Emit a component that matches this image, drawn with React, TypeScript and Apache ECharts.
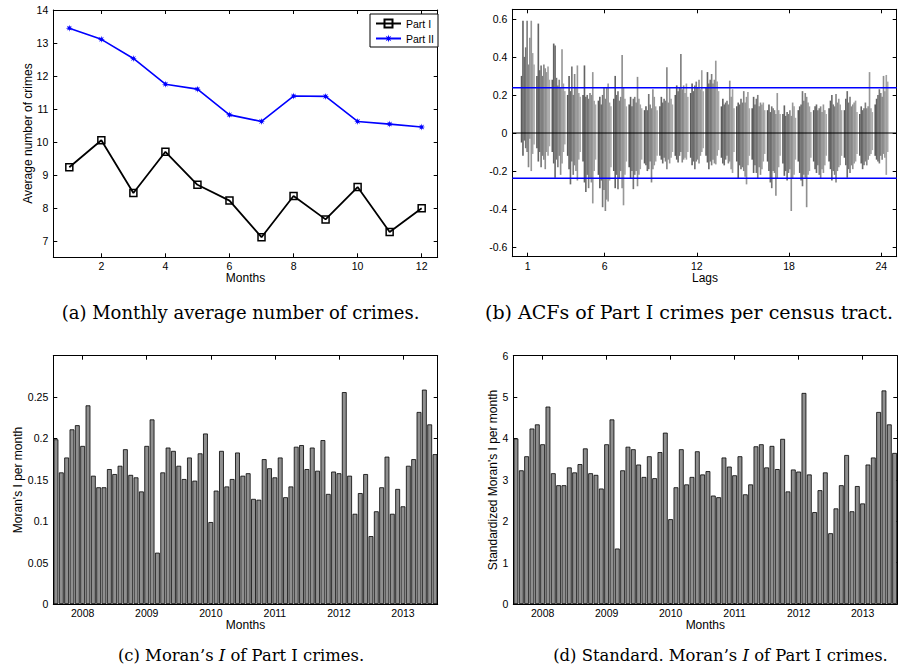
import React, { useEffect, useRef } from "react";
import * as echarts from "echarts";

const SANS = "'Liberation Sans', Arial, Helvetica, sans-serif";
const SERIF = "'DejaVu Serif', serif";

// ---------- (a) monthly averages ----------
const monthNums = [1, 2, 3, 4, 5, 6, 7, 8, 9, 10, 11, 12];
const partI = [9.23, 10.05, 8.45, 9.7, 8.7, 8.22, 7.11, 8.36, 7.65, 8.63, 7.27, 7.99];
const partII = [13.45, 13.11, 12.53, 11.75, 11.6, 10.82, 10.62, 11.39, 11.38, 10.62, 10.54, 10.45];
const monthTicksA = [2, 4, 6, 8, 10, 12];
const crimeTicks = [7, 8, 9, 10, 11, 12, 13, 14];

// ---------- (b) ACFs per lag (10 sub-columns per lag: upper and lower extents) ----------
const lagNums = [1, 2, 3, 4, 5, 6, 7, 8, 9, 10, 11, 12, 13, 14, 15, 16, 17, 18, 19, 20, 21, 22, 23, 24];
const lagTicks = [1, 6, 12, 18, 24];
const acfTicks = [-0.6, -0.4, -0.2, 0, 0.2, 0.4, 0.6];
const acfBound = 0.2377;
const acfHigh = [
  [0.30, 0.59, 0.40, 0.45, 0.59, 0.36, 0.50, 0.59, 0.42, 0.36],
  [0.30, 0.575, 0.33, 0.355, 0.30, 0.36, 0.34, 0.32, 0.35, 0.28],
  [0.28, 0.47, 0.46, 0.29, 0.25, 0.28, 0.24, 0.44, 0.26, 0.22],
  [0.20, 0.30, 0.22, 0.35, 0.20, 0.31, 0.24, 0.355, 0.21, 0.19],
  [0.20, 0.355, 0.19, 0.20, 0.18, 0.21, 0.20, 0.32, 0.17, 0.15],
  [0.17, 0.19, 0.15, 0.20, 0.24, 0.18, 0.24, 0.26, 0.16, 0.14],
  [0.18, 0.30, 0.20, 0.22, 0.17, 0.19, 0.41, 0.24, 0.18, 0.14],
  [0.15, 0.19, 0.14, 0.18, 0.19, 0.16, 0.295, 0.18, 0.15, 0.13],
  [0.12, 0.14, 0.12, 0.205, 0.15, 0.13, 0.23, 0.19, 0.14, 0.12],
  [0.14, 0.19, 0.16, 0.18, 0.17, 0.345, 0.16, 0.24, 0.18, 0.15],
  [0.20, 0.25, 0.22, 0.24, 0.415, 0.23, 0.25, 0.21, 0.26, 0.19],
  [0.21, 0.26, 0.22, 0.25, 0.27, 0.24, 0.28, 0.23, 0.33, 0.22],
  [0.24, 0.32, 0.26, 0.28, 0.31, 0.26, 0.28, 0.38, 0.27, 0.22],
  [0.14, 0.18, 0.15, 0.16, 0.17, 0.15, 0.275, 0.19, 0.23, 0.13],
  [0.14, 0.16, 0.15, 0.18, 0.16, 0.22, 0.16, 0.19, 0.215, 0.13],
  [0.13, 0.19, 0.15, 0.18, 0.20, 0.14, 0.16, 0.15, 0.16, 0.12],
  [0.12, 0.15, 0.11, 0.14, 0.13, 0.12, 0.10, 0.21, 0.12, 0.10],
  [0.10, 0.145, 0.09, 0.11, 0.10, 0.12, 0.09, 0.16, 0.14, 0.08],
  [0.12, 0.14, 0.15, 0.22, 0.17, 0.21, 0.19, 0.16, 0.14, 0.11],
  [0.12, 0.14, 0.15, 0.12, 0.13, 0.14, 0.11, 0.15, 0.12, 0.10],
  [0.13, 0.17, 0.20, 0.15, 0.14, 0.205, 0.16, 0.18, 0.15, 0.12],
  [0.12, 0.18, 0.22, 0.16, 0.19, 0.14, 0.15, 0.16, 0.17, 0.11],
  [0.10, 0.14, 0.12, 0.13, 0.16, 0.13, 0.14, 0.32, 0.13, 0.11],
  [0.15, 0.18, 0.20, 0.23, 0.21, 0.19, 0.30, 0.22, 0.305, 0.27],
];
const acfLow = [
  [-0.05, -0.12, -0.04, -0.08, -0.10, -0.18, -0.03, -0.20, -0.11, -0.06],
  [-0.08, -0.15, -0.10, -0.18, -0.12, -0.14, -0.19, -0.10, -0.12, -0.07],
  [-0.10, -0.16, -0.235, -0.14, -0.18, -0.12, -0.22, -0.16, -0.10, -0.06],
  [-0.12, -0.19, -0.27, -0.15, -0.22, -0.17, -0.20, -0.25, -0.14, -0.10],
  [-0.15, -0.26, -0.31, -0.22, -0.29, -0.24, -0.26, -0.37, -0.20, -0.14],
  [-0.22, -0.29, -0.25, -0.39, -0.30, -0.41, -0.35, -0.36, -0.25, -0.18],
  [-0.20, -0.29, -0.22, -0.295, -0.24, -0.20, -0.29, -0.38, -0.22, -0.15],
  [-0.18, -0.24, -0.20, -0.295, -0.22, -0.20, -0.28, -0.22, -0.19, -0.14],
  [-0.16, -0.17, -0.20, -0.19, -0.15, -0.26, -0.19, -0.17, -0.15, -0.12],
  [-0.12, -0.14, -0.16, -0.13, -0.15, -0.19, -0.14, -0.16, -0.13, -0.10],
  [-0.12, -0.14, -0.155, -0.12, -0.10, -0.155, -0.14, -0.13, -0.14, -0.10],
  [-0.13, -0.17, -0.15, -0.19, -0.15, -0.14, -0.16, -0.12, -0.10, -0.08],
  [-0.12, -0.155, -0.19, -0.15, -0.17, -0.14, -0.16, -0.165, -0.12, -0.09],
  [-0.13, -0.16, -0.17, -0.14, -0.12, -0.16, -0.15, -0.19, -0.21, -0.10],
  [-0.15, -0.24, -0.17, -0.19, -0.18, -0.20, -0.23, -0.27, -0.17, -0.12],
  [-0.14, -0.21, -0.17, -0.21, -0.24, -0.18, -0.22, -0.19, -0.15, -0.11],
  [-0.15, -0.20, -0.26, -0.29, -0.20, -0.21, -0.33, -0.24, -0.18, -0.12],
  [-0.16, -0.225, -0.20, -0.25, -0.21, -0.19, -0.41, -0.24, -0.22, -0.14],
  [-0.15, -0.21, -0.25, -0.28, -0.22, -0.235, -0.39, -0.22, -0.20, -0.13],
  [-0.15, -0.19, -0.21, -0.17, -0.22, -0.24, -0.19, -0.21, -0.17, -0.12],
  [-0.15, -0.19, -0.25, -0.20, -0.22, -0.26, -0.20, -0.18, -0.17, -0.12],
  [-0.13, -0.17, -0.235, -0.19, -0.21, -0.17, -0.19, -0.16, -0.15, -0.11],
  [-0.12, -0.16, -0.19, -0.17, -0.15, -0.17, -0.14, -0.12, -0.11, -0.09],
  [-0.12, -0.14, -0.15, -0.16, -0.12, -0.14, -0.11, -0.13, -0.22, -0.10],
];

// ---------- (c), (d) Moran's I per month ----------
const years = ["2008", "2009", "2010", "2011", "2012", "2013"];
const monthCodes = ["01", "02", "03", "04", "05", "06", "07", "08", "09", "10", "11", "12"];
const moranI = [
  0.199, 0.159, 0.177, 0.211, 0.216, 0.191, 0.240, 0.155, 0.141, 0.141, 0.163, 0.157,
  0.167, 0.187, 0.156, 0.153, 0.136, 0.191, 0.223, 0.062, 0.159, 0.189, 0.185, 0.167,
  0.151, 0.177, 0.149, 0.182, 0.206, 0.099, 0.137, 0.185, 0.142, 0.151, 0.183, 0.155,
  0.158, 0.127, 0.126, 0.175, 0.164, 0.153, 0.177, 0.129, 0.142, 0.190, 0.192, 0.163,
  0.189, 0.161, 0.198, 0.133, 0.160, 0.158, 0.256, 0.155, 0.109, 0.134, 0.157, 0.082,
  0.112, 0.141, 0.178, 0.109, 0.139, 0.118, 0.167, 0.175, 0.232, 0.259, 0.217, 0.181,
];
const moranZ = [
  4.00, 3.23, 3.57, 4.24, 4.34, 3.86, 4.77, 3.16, 2.87, 2.87, 3.30, 3.18,
  3.38, 3.76, 3.16, 3.12, 2.79, 3.86, 4.46, 1.34, 3.23, 3.80, 3.74, 3.37,
  3.07, 3.57, 3.04, 3.67, 4.14, 2.05, 2.82, 3.74, 2.89, 3.07, 3.69, 3.13,
  3.21, 2.62, 2.58, 3.54, 3.32, 3.11, 3.57, 2.65, 2.89, 3.81, 3.86, 3.30,
  3.82, 3.26, 3.99, 2.72, 3.25, 3.20, 5.10, 3.13, 2.22, 2.75, 3.18, 1.71,
  2.31, 2.87, 3.60, 2.24, 2.85, 2.43, 3.37, 3.54, 4.64, 5.16, 4.34, 3.65,
];
const moranITicks = [0, 0.05, 0.1, 0.15, 0.2, 0.25];
const moranZTicks = [0, 1, 2, 3, 4, 5, 6];

const monthCats = years.flatMap((y) => monthCodes.map((m) => y + "-" + m));

const axisLineStyle = { show: true, onZero: false, lineStyle: { color: "#000", width: 1 } };
const labelStyle = { color: "#000", fontSize: 10.5, fontFamily: SANS };

function tick(custom?: number[]) {
  const t: any = { show: true, inside: true, length: 4, lineStyle: { color: "#000", width: 1 } };
  if (custom) t.customValues = custom;
  return t;
}

function valuePair(dim: "x" | "y", gridIndex: number, min: number, max: number, ticks: number[], fmt: (v: number) => string) {
  const base: any = {
    type: "value", gridIndex, min, max,
    splitLine: { show: false }, axisLine: axisLineStyle, axisTick: tick(ticks),
  };
  return [
    { ...base, position: dim === "x" ? "bottom" : "left",
      axisLabel: { ...labelStyle, show: true, customValues: ticks, margin: dim === "x" ? 3.5 : 5, formatter: fmt } },
    { ...base, position: dim === "x" ? "top" : "right", axisLabel: { show: false } },
  ];
}

const yearTick = (i: number) => i % 12 === 5;
function catPair(gridIndex: number) {
  const base: any = {
    type: "category", gridIndex, data: monthCats, boundaryGap: true,
    axisLine: axisLineStyle,
    axisTick: { show: true, inside: true, length: 4, interval: yearTick, alignWithLabel: true, lineStyle: { color: "#000" } },
    splitLine: { show: false },
  };
  return [
    { ...base, position: "bottom",
      axisLabel: { ...labelStyle, interval: yearTick, margin: 3.5, formatter: (v: string) => v.slice(0, 4) } },
    { ...base, position: "top", axisLabel: { show: false } },
  ];
}

const fmtNum = (v: number) => String(Math.round(v * 100) / 100);

const ACF_COLS = 10;
const ACF_SPAN = 0.9;

function buildOption() {
  const acfData: number[][] = [];
  lagNums.forEach((lag, li) => {
    acfHigh[li].forEach((h, ci) => acfData.push([lag, ci, acfLow[li][ci], h]));
  });

  const text = (x: number, y: number, t: string, size: number, rot = 0, family = SANS, rich?: any) => ({
    type: "text", x, y, rotation: rot, silent: true,
    style: { text: t, fill: "#000", fontSize: size, fontFamily: family, align: "center", verticalAlign: "middle", rich },
  });
  const italicRich = (size: number) => ({ i: { fontStyle: "italic", fontFamily: SERIF, fontSize: size, fill: "#000" } });

  const star = "path://M0,-10L1.6,-3.8L7.1,-7.1L3.8,-1.6L10,0L3.8,1.6L7.1,7.1L1.6,3.8L0,10L-1.6,3.8L-7.1,7.1L-3.8,1.6L-10,0L-3.8,-1.6L-7.1,-7.1L-1.6,-3.8Z";

  return {
    animation: false,
    backgroundColor: "#fff",
    grid: [
      { left: 53.3, top: 10, width: 384.4, height: 247.3, outerBoundsMode: "none", containLabel: false },
      { left: 512.3, top: 9.3, width: 384.4, height: 247.4, outerBoundsMode: "none", containLabel: false },
      { left: 53.3, top: 355.7, width: 384.4, height: 248.3, outerBoundsMode: "none", containLabel: false },
      { left: 513.3, top: 355.7, width: 384, height: 248.3, outerBoundsMode: "none", containLabel: false },
    ],
    xAxis: [
      ...valuePair("x", 0, 0.5, 12.5, monthTicksA, fmtNum),
      ...valuePair("x", 1, 0, 25, lagTicks, fmtNum),
      ...catPair(2),
      ...catPair(3),
    ],
    yAxis: [
      ...valuePair("y", 0, 6.5, 14, crimeTicks, fmtNum),
      ...valuePair("y", 1, -0.65, 0.65, acfTicks, fmtNum),
      ...valuePair("y", 2, 0, 0.3, moranITicks, fmtNum),
      ...valuePair("y", 3, 0, 6, moranZTicks, fmtNum),
    ],
    legend: {
      data: ["Part I", "Part II"],
      left: 370, top: 14, orient: "vertical",
      padding: [4, 4, 3, 5], itemGap: 4, itemWidth: 25, itemHeight: 10, itemTextGap: 4,
      borderColor: "#000", borderWidth: 1, borderRadius: 0, backgroundColor: "#fff",
      textStyle: { color: "#000", fontSize: 10.5, fontFamily: SANS },
    },
    series: [
      {
        type: "line", name: "Part I", xAxisIndex: 0, yAxisIndex: 0,
        data: monthNums.map((m, i) => [m, partI[i]]),
        symbol: "rect", symbolSize: 7,
        itemStyle: { color: "rgba(255,255,255,0)", borderColor: "#000", borderWidth: 1.5 },
        lineStyle: { color: "#000", width: 1.8 },
      },
      {
        type: "line", name: "Part II", xAxisIndex: 0, yAxisIndex: 0,
        data: monthNums.map((m, i) => [m, partII[i]]),
        symbol: star, symbolSize: 7,
        itemStyle: { color: "#0000ff" },
        lineStyle: { color: "#0000ff", width: 1.6 },
      },
      {
        type: "line", xAxisIndex: 2, yAxisIndex: 2, silent: true, symbol: "none",
        data: [[0, 0], [25, 0]], lineStyle: { color: "#000", width: 1 },
      },
      {
        type: "custom", xAxisIndex: 2, yAxisIndex: 2, silent: true,
        data: acfData,
        encode: { x: 0, y: [2, 3] },
        renderItem: (params: any, api: any) => {
          const lag = api.value(0);
          const ci = api.value(1);
          const lo = api.value(2);
          const hi = api.value(3);
          const step = ACF_SPAN / ACF_COLS;
          const x0 = lag - ACF_SPAN / 2 + ci * step;
          const pTop = api.coord([x0, hi]);
          const pBot = api.coord([x0, lo]);
          const w = api.size([step, 0])[0];
          const g = Math.round(90 + (ci * (170 - 90)) / (ACF_COLS - 1));
          return {
            type: "rect",
            shape: { x: pTop[0], y: pTop[1], width: w + 0.25, height: pBot[1] - pTop[1] },
            style: { fill: `rgb(${g},${g},${g})` },
          };
        },
      },
      {
        type: "line", xAxisIndex: 2, yAxisIndex: 2, silent: true, symbol: "none",
        data: [[0, acfBound], [25, acfBound]], lineStyle: { color: "#0000ff", width: 1.4 },
      },
      {
        type: "line", xAxisIndex: 2, yAxisIndex: 2, silent: true, symbol: "none",
        data: [[0, -acfBound], [25, -acfBound]], lineStyle: { color: "#0000ff", width: 1.4 },
      },
      {
        type: "bar", xAxisIndex: 4, yAxisIndex: 4, data: moranI, barCategoryGap: "10%",
        itemStyle: { color: "#8f8f8f", borderColor: "#000", borderWidth: 0.8 },
      },
      {
        type: "bar", xAxisIndex: 6, yAxisIndex: 6, data: moranZ, barCategoryGap: "10%",
        itemStyle: { color: "#8f8f8f", borderColor: "#000", borderWidth: 0.8 },
      },
    ],
    graphic: [
      text(28, 133.6, "Average number of crimes", 12, Math.PI / 2),
      text(245.5, 278, "Months", 12),
      text(705, 277.5, "Lags", 12),
      text(18, 480, "Moran's I per month", 12, Math.PI / 2),
      text(245.5, 625, "Months", 12),
      text(493, 480, "Standardized Moran's I per month", 12, Math.PI / 2),
      text(705.3, 625, "Months", 12),
      text(240.5, 312, "(a) Monthly average number of crimes.", 18, 0, SERIF),
      text(689, 312, "(b) ACFs of Part I crimes per census tract.", 19, 0, SERIF),
      text(241, 655, "(c) Moran\u2019s {i|I} of Part I crimes.", 16.4, 0, SERIF, italicRich(16.4)),
      text(720.5, 655, "(d) Standard. Moran\u2019s {i|I} of Part I crimes.", 16.4, 0, SERIF, italicRich(16.4)),
    ],
  };
}

export default function App() {
  const ref = useRef<HTMLDivElement>(null);
  useEffect(() => {
    if (!ref.current) return;
    const chart = echarts.init(ref.current, undefined, { renderer: "svg" });
    chart.setOption(buildOption() as any);
    return () => chart.dispose();
  }, []);
  return (
    <div
      ref={ref}
      style={{ position: "absolute", left: 0, top: 0, width: 900, height: 670, background: "#fff" }}
    />
  );
}
